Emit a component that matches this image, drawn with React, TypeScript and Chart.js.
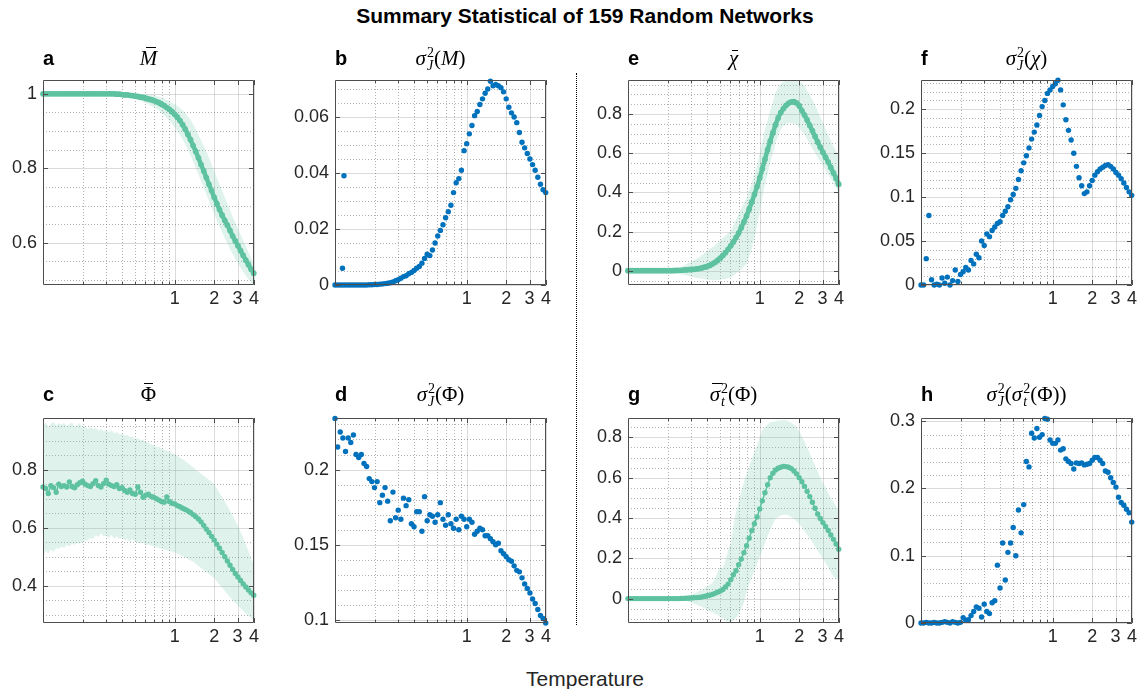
import React, { useEffect, useRef } from 'react';
import { Chart, registerables } from 'chart.js';

Chart.register(...registerables);

// ---------------- data ----------------
const TEMPERATURE = [
  0.1, 0.1047, 0.1096, 0.1148, 0.1202, 0.1259, 0.1318, 0.138, 0.1445, 0.1514,
  0.1585, 0.166, 0.1738, 0.182, 0.1905, 0.1995, 0.2089, 0.2188, 0.2291, 0.2399,
  0.2512, 0.263, 0.2754, 0.2884, 0.302, 0.3162, 0.3311, 0.3467, 0.3631, 0.3802,
  0.3981, 0.4169, 0.4365, 0.4571, 0.4786, 0.5012, 0.5248, 0.5495, 0.5754, 0.6026,
  0.631, 0.6607, 0.6918, 0.7244, 0.7586, 0.7943, 0.8318, 0.871, 0.912, 0.955,
  1.0, 1.047, 1.096, 1.148, 1.202, 1.259, 1.318, 1.38, 1.445, 1.514,
  1.585, 1.66, 1.738, 1.82, 1.905, 1.995, 2.089, 2.188, 2.291, 2.399,
  2.512, 2.63, 2.754, 2.884, 3.02, 3.162, 3.311, 3.467, 3.631, 3.802,
  3.981,
];

// a: mean magnetisation
const A_MEAN = [
  1, 1, 1, 1, 1, 1, 1, 1, 1, 1,
  1, 1, 1, 1, 1, 1, 1, 1, 1, 1,
  1, 1, 1, 1, 1, 1, 1, 1, 0.999, 0.999,
  0.998, 0.997, 0.997, 0.996, 0.995, 0.994, 0.993, 0.991, 0.99, 0.988,
  0.986, 0.984, 0.982, 0.979, 0.976, 0.972, 0.968, 0.963, 0.958, 0.952,
  0.945, 0.937, 0.928, 0.917, 0.905, 0.891, 0.877, 0.861, 0.845, 0.828,
  0.81, 0.793, 0.775, 0.757, 0.74, 0.722, 0.705, 0.689, 0.674, 0.66,
  0.647, 0.633, 0.618, 0.605, 0.592, 0.579, 0.566, 0.553, 0.541, 0.529,
  0.518,
];
const A_HI = [
  1.001, 1.001, 1.001, 1.001, 1.001, 1.001, 1.001, 1.001, 1.001, 1.001,
  1.001, 1.001, 1.001, 1.001, 1.001, 1.001, 1.001, 1.001, 1.001, 1.001,
  1.001, 1.001, 1.001, 1.001, 1.001, 1.001, 1.001, 1.001, 1.001, 1.001,
  1.0, 1.0, 1.0, 1.0, 1.0, 1.0, 1.0, 0.999, 0.999, 0.998,
  0.998, 0.997, 0.996, 0.994, 0.992, 0.99, 0.987, 0.984, 0.98, 0.976,
  0.972, 0.967, 0.962, 0.955, 0.948, 0.939, 0.93, 0.918, 0.905, 0.89,
  0.875, 0.86, 0.845, 0.828, 0.81, 0.792, 0.775, 0.757, 0.74, 0.722,
  0.705, 0.688, 0.67, 0.654, 0.638, 0.622, 0.607, 0.591, 0.575, 0.56,
  0.545,
];
const A_LO = [
  0.999, 0.999, 0.999, 0.999, 0.999, 0.999, 0.999, 0.999, 0.999, 0.999,
  0.999, 0.999, 0.999, 0.999, 0.999, 0.999, 0.999, 0.999, 0.999, 0.999,
  0.999, 0.999, 0.999, 0.999, 0.999, 0.999, 0.999, 0.999, 0.999, 0.999,
  0.995, 0.994, 0.992, 0.99, 0.988, 0.986, 0.984, 0.981, 0.978, 0.975,
  0.972, 0.968, 0.964, 0.96, 0.955, 0.949, 0.943, 0.936, 0.928, 0.919,
  0.91, 0.9, 0.89, 0.878, 0.865, 0.85, 0.835, 0.818, 0.8, 0.783,
  0.765, 0.748, 0.73, 0.712, 0.695, 0.677, 0.66, 0.644, 0.628, 0.612,
  0.597, 0.583, 0.57, 0.557, 0.545, 0.533, 0.522, 0.512, 0.502, 0.493,
  0.485,
];

// b: variance over networks of M
const B_VAL = [
  0, 0, 0, 0, 0, 0, 0, 0, 0, 0,
  0, 0, 0, 0.0001, 0.0001, 0.0002, 0.0002, 0.0003, 0.0004, 0.0005,
  0.0006, 0.0008, 0.0011, 0.0015, 0.0019, 0.0024, 0.003, 0.0033, 0.004, 0.0045,
  0.0052, 0.006, 0.0066, 0.0078, 0.0095, 0.011, 0.0105, 0.0125, 0.015, 0.0175,
  0.0195, 0.0215, 0.024, 0.0262, 0.0285, 0.033, 0.0365, 0.038, 0.041, 0.048,
  0.0505, 0.054, 0.057, 0.0605, 0.062, 0.0645, 0.0665, 0.0685, 0.07, 0.0728,
  0.0712, 0.0716, 0.0712, 0.0705, 0.069, 0.0665, 0.0635, 0.0615, 0.06, 0.058,
  0.0545, 0.051, 0.049, 0.047, 0.045, 0.043, 0.041, 0.0385, 0.036, 0.034,
  0.033,
];
const B_OUTLIER_T = [0.114, 0.117];
const B_OUTLIER_V = [0.006, 0.039];

// c: mean integrated information
const C_MEAN = [
  0.74, 0.735, 0.718, 0.745, 0.738, 0.722, 0.75, 0.742, 0.745, 0.74,
  0.758, 0.742, 0.738, 0.748, 0.755, 0.76, 0.75, 0.745, 0.742, 0.752,
  0.762, 0.745, 0.74, 0.752, 0.764, 0.75, 0.745, 0.742, 0.748, 0.735,
  0.738, 0.728, 0.722, 0.73, 0.718, 0.715, 0.74, 0.722, 0.705, 0.712,
  0.715, 0.708, 0.705, 0.7, 0.695, 0.69, 0.688, 0.706, 0.69, 0.684,
  0.682, 0.676, 0.672, 0.667, 0.663, 0.658, 0.652, 0.645, 0.638, 0.63,
  0.62, 0.608, 0.595, 0.583, 0.57, 0.557, 0.543, 0.529, 0.514, 0.5,
  0.485, 0.47, 0.456, 0.442, 0.43, 0.418, 0.406, 0.395, 0.385, 0.375,
  0.367,
];
const C_HI = [
  0.955, 0.962, 0.948, 0.958, 0.965, 0.952, 0.96, 0.955, 0.962, 0.95,
  0.958, 0.963, 0.948, 0.955, 0.96, 0.945, 0.952, 0.94, 0.948, 0.94,
  0.945, 0.935, 0.94, 0.933, 0.937, 0.93, 0.935, 0.926, 0.93, 0.922,
  0.925, 0.918, 0.92, 0.912, 0.915, 0.905, 0.91, 0.9, 0.905, 0.893,
  0.895, 0.887, 0.885, 0.878, 0.88, 0.872, 0.87, 0.866, 0.862, 0.858,
  0.853, 0.848, 0.842, 0.836, 0.83, 0.823, 0.815, 0.808, 0.8, 0.793,
  0.786, 0.779, 0.772, 0.765, 0.758, 0.75, 0.735, 0.72, 0.705, 0.69,
  0.675, 0.658, 0.642, 0.625, 0.605, 0.585, 0.565, 0.543, 0.52, 0.495,
  0.47,
];
const C_LO = [
  0.505, 0.52, 0.51, 0.525, 0.515, 0.53, 0.527, 0.535, 0.53, 0.54,
  0.535, 0.545, 0.54, 0.548, 0.545, 0.55, 0.558, 0.555, 0.565, 0.56,
  0.575, 0.568, 0.58, 0.57, 0.572, 0.565, 0.575, 0.562, 0.57, 0.56,
  0.565, 0.555, 0.562, 0.55, 0.561, 0.552, 0.548, 0.545, 0.55, 0.54,
  0.542, 0.538, 0.535, 0.532, 0.53, 0.528, 0.525, 0.522, 0.52, 0.517,
  0.514, 0.51, 0.506, 0.502, 0.497, 0.492, 0.487, 0.482, 0.475, 0.468,
  0.461, 0.454, 0.447, 0.44, 0.433, 0.426, 0.415, 0.404, 0.393, 0.382,
  0.371, 0.36, 0.349, 0.34, 0.331, 0.322, 0.313, 0.304, 0.296, 0.288,
  0.28,
];

// d: variance over networks of Phi
const D_VAL = [
  0.234, 0.215, 0.225, 0.221, 0.212, 0.221, 0.218, 0.223, 0.21, 0.208,
  0.21, 0.204, 0.202, 0.194, 0.192, 0.188, 0.192, 0.178, 0.183, 0.188,
  0.179, 0.166, 0.185, 0.168, 0.173, 0.167, 0.181, 0.176, 0.18, 0.164,
  0.162, 0.172, 0.172, 0.159, 0.182, 0.166, 0.17, 0.169, 0.165, 0.17,
  0.178, 0.167, 0.163, 0.17, 0.164, 0.161, 0.167, 0.16, 0.169, 0.167,
  0.162, 0.167, 0.165, 0.157, 0.159, 0.161, 0.16, 0.156, 0.156, 0.154,
  0.152, 0.15, 0.151, 0.146, 0.144, 0.142, 0.14, 0.139, 0.136, 0.133,
  0.132, 0.128, 0.124, 0.121, 0.118, 0.114, 0.111, 0.107, 0.103, 0.101,
  0.098,
];

// e: mean susceptibility
const E_MEAN = [
  0.001, 0.001, 0.001, 0.001, 0.001, 0.001, 0.001, 0.001, 0.001, 0.001,
  0.001, 0.001, 0.001, 0.001, 0.001, 0.001, 0.001, 0.001, 0.002, 0.002,
  0.003, 0.004, 0.005, 0.006, 0.007, 0.008, 0.01, 0.012, 0.015, 0.019,
  0.023, 0.028, 0.035, 0.043, 0.053, 0.065, 0.078, 0.093, 0.11, 0.128,
  0.148, 0.17, 0.193, 0.22, 0.25, 0.28, 0.315, 0.352, 0.39, 0.43,
  0.475, 0.522, 0.57, 0.618, 0.662, 0.705, 0.745, 0.78, 0.808, 0.828,
  0.845, 0.856, 0.862, 0.863, 0.857, 0.843, 0.818, 0.795, 0.77, 0.742,
  0.715, 0.686, 0.658, 0.631, 0.605, 0.58, 0.555, 0.528, 0.5, 0.473,
  0.442,
];
const E_HI = [
  0.004, 0.004, 0.004, 0.004, 0.004, 0.004, 0.004, 0.004, 0.004, 0.004,
  0.004, 0.004, 0.004, 0.004, 0.004, 0.004, 0.004, 0.004, 0.008, 0.012,
  0.018, 0.025, 0.032, 0.04, 0.047, 0.055, 0.062, 0.07, 0.08, 0.09,
  0.1, 0.11, 0.12, 0.13, 0.142, 0.155, 0.168, 0.18, 0.192, 0.205,
  0.23, 0.26, 0.29, 0.32, 0.345, 0.371, 0.41, 0.45, 0.495, 0.54,
  0.6, 0.66, 0.72, 0.77, 0.82, 0.86, 0.91, 0.935, 0.955, 0.965,
  0.972, 0.975, 0.977, 0.977, 0.975, 0.968, 0.958, 0.945, 0.92, 0.895,
  0.875, 0.845, 0.815, 0.785, 0.755, 0.725, 0.695, 0.665, 0.635, 0.61,
  0.588,
];
const E_LO = [
  -0.003, -0.003, -0.003, -0.003, -0.003, -0.003, -0.003, -0.003, -0.003, -0.003,
  -0.003, -0.003, -0.003, -0.003, -0.003, -0.003, -0.003, -0.003, -0.006, -0.01,
  -0.015, -0.018, -0.022, -0.026, -0.03, -0.033, -0.036, -0.038, -0.04, -0.042,
  -0.044, -0.046, -0.047, -0.047, -0.046, -0.045, -0.043, -0.041, -0.038, -0.034,
  -0.025, -0.013, -0.003, 0.01, 0.022, 0.037, 0.07, 0.11, 0.17, 0.23,
  0.3, 0.375, 0.44, 0.49, 0.555, 0.6, 0.65, 0.69, 0.72, 0.74,
  0.75, 0.755, 0.753, 0.75, 0.746, 0.73, 0.713, 0.695, 0.672, 0.648,
  0.625, 0.603, 0.58, 0.56, 0.538, 0.515, 0.49, 0.47, 0.445, 0.42,
  0.396,
];

// f: variance over networks of chi
const F_VAL = [
  0, 0, 0.03, 0.079, 0.006, 0, 0.001, 0, 0.008, 0.002,
  0.009, 0, 0.005, 0.017, 0.004, 0.012, 0.015, 0.02, 0.017, 0.028,
  0.024, 0.035, 0.031, 0.05, 0.045, 0.058, 0.055, 0.062, 0.066, 0.07,
  0.072, 0.079, 0.084, 0.089, 0.097, 0.103, 0.11, 0.12, 0.13, 0.139,
  0.147, 0.156, 0.166, 0.174, 0.182, 0.193, 0.203, 0.21, 0.218, 0.222,
  0.226, 0.229, 0.233, 0.222, 0.205, 0.188, 0.176, 0.165, 0.15, 0.135,
  0.122, 0.113, 0.104, 0.106, 0.113, 0.119, 0.125, 0.129, 0.132, 0.134,
  0.136, 0.137, 0.135, 0.132, 0.128, 0.125, 0.121, 0.116, 0.111, 0.106,
  0.102,
];

// g: mean temporal variance of Phi
const G_MEAN = [
  0, 0, 0, 0, 0, 0, 0, 0, 0, 0,
  0, 0, 0, 0, 0, 0, 0, 0, 0, 0,
  0.001, 0.001, 0.002, 0.002, 0.003, 0.004, 0.005, 0.006, 0.008, 0.011,
  0.014, 0.017, 0.021, 0.026, 0.032, 0.038, 0.045, 0.058, 0.072, 0.094,
  0.118, 0.138, 0.168, 0.196, 0.228, 0.262, 0.3, 0.338, 0.372, 0.405,
  0.445, 0.485, 0.525, 0.565, 0.6, 0.622, 0.638, 0.647, 0.652, 0.656,
  0.655, 0.652, 0.645, 0.633, 0.619, 0.6, 0.58, 0.557, 0.532, 0.506,
  0.478, 0.448, 0.42, 0.398, 0.377, 0.358, 0.338, 0.316, 0.294, 0.271,
  0.245,
];
const G_HI = [
  0.002, 0.002, 0.002, 0.002, 0.002, 0.002, 0.002, 0.002, 0.002, 0.002,
  0.002, 0.002, 0.002, 0.002, 0.002, 0.002, 0.002, 0.002, 0.002, 0.002,
  0.008, 0.011, 0.015, 0.018, 0.022, 0.026, 0.03, 0.037, 0.045, 0.052,
  0.06, 0.068, 0.078, 0.1, 0.13, 0.16, 0.15, 0.19, 0.24, 0.28,
  0.36, 0.43, 0.48, 0.53, 0.58, 0.62, 0.655, 0.69, 0.73, 0.76,
  0.8, 0.835, 0.85, 0.865, 0.875, 0.878, 0.88, 0.883, 0.885, 0.886,
  0.885, 0.88, 0.873, 0.863, 0.853, 0.83, 0.805, 0.78, 0.75, 0.72,
  0.69, 0.66, 0.63, 0.6, 0.575, 0.55, 0.525, 0.5, 0.48, 0.46,
  0.445,
];
const G_LO = [
  -0.001, -0.001, -0.001, -0.001, -0.001, -0.001, -0.001, -0.001, -0.001, -0.001,
  -0.001, -0.001, -0.001, -0.001, -0.001, -0.001, -0.001, -0.001, -0.001, -0.001,
  -0.005, -0.008, -0.01, -0.015, -0.02, -0.025, -0.03, -0.036, -0.042, -0.048,
  -0.055, -0.062, -0.068, -0.074, -0.08, -0.09, -0.1, -0.108, -0.115, -0.115,
  -0.11, -0.095, -0.08, -0.05, -0.02, 0.029, 0.07, 0.105, 0.14, 0.175,
  0.207, 0.24, 0.275, 0.31, 0.34, 0.37, 0.395, 0.405, 0.412, 0.415,
  0.417, 0.412, 0.405, 0.395, 0.384, 0.37, 0.355, 0.335, 0.317, 0.3,
  0.28, 0.26, 0.238, 0.218, 0.198, 0.177, 0.155, 0.132, 0.11, 0.1,
  0.09,
];

// h: variance over networks of temporal variance of Phi
const H_VAL = [
  0, 0, 0.001, 0, 0, 0.001, 0, 0, 0.001, 0.002,
  0.001, 0, 0.002, 0.001, 0, 0.001, 0.008, 0.004, 0.005, 0.011,
  0.017, 0.024, 0.022, 0.009, 0.028, 0.017, 0.014, 0.03, 0.033, 0.086,
  0.052, 0.119, 0.064, 0.105, 0.119, 0.142, 0.1, 0.168, 0.134, 0.176,
  0.24, 0.232, 0.282, 0.275, 0.289, 0.276, 0.28, 0.304, 0.303, 0.272,
  0.267, 0.267, 0.272, 0.257, 0.259, 0.244, 0.24, 0.237, 0.229, 0.238,
  0.237, 0.238, 0.235, 0.236, 0.237, 0.242, 0.246, 0.246, 0.242, 0.237,
  0.226, 0.224, 0.216, 0.209, 0.202, 0.187, 0.179, 0.175, 0.169, 0.164,
  0.15,
];

// axis ticks
const X_MIN = 0.1;
const X_MAX = 4;
const X_TICKS = [1, 2, 3, 4];
const X_TICK_LABELS = ['1', '2', '3', '4'];
const X_MINOR = [0.2, 0.3, 0.4, 0.5, 0.6, 0.7, 0.8, 0.9];

const Y_TICKS_A = [0.6, 0.8, 1];
const Y_LABELS_A = ['0.6', '0.8', '1'];
const Y_TICKS_B = [0, 0.02, 0.04, 0.06];
const Y_LABELS_B = ['0', '0.02', '0.04', '0.06'];
const Y_TICKS_C = [0.4, 0.6, 0.8];
const Y_LABELS_C = ['0.4', '0.6', '0.8'];
const Y_TICKS_D = [0.1, 0.15, 0.2];
const Y_LABELS_D = ['0.1', '0.15', '0.2'];
const Y_TICKS_E = [0, 0.2, 0.4, 0.6, 0.8];
const Y_LABELS_E = ['0', '0.2', '0.4', '0.6', '0.8'];
const Y_TICKS_F = [0, 0.05, 0.1, 0.15, 0.2];
const Y_LABELS_F = ['0', '0.05', '0.1', '0.15', '0.2'];
const Y_TICKS_G = [0, 0.2, 0.4, 0.6, 0.8];
const Y_LABELS_G = ['0', '0.2', '0.4', '0.6', '0.8'];
const Y_TICKS_H = [0, 0.1, 0.2, 0.3];
const Y_LABELS_H = ['0', '0.1', '0.2', '0.3'];

// ---------------- style ----------------
const GREEN = 'rgb(94,194,160)';
const BAND = 'rgba(94,194,160,0.2)';
const BLUE = '#0072bd';
const TEXT = '#262626';
const SANS = "'Liberation Sans', Arial, Helvetica, sans-serif";
const SERIF = "'Liberation Serif', 'Times New Roman', serif";

const PLOT_W = 211;
const PLOT_H = 210;
const AXIS_W = 60;
const AXIS_H = 30;
const PAD_T = 12;
const PAD_R = 9;

type PanelSpec = {
  letter: string;
  left: number;
  top: number;
  labelY: number;
  yMin: number;
  yMax: number;
  yTicks: number[];
  yLabels: string[];
  yMinorStep: number;
  thick?: boolean;
  mean?: number[];
  lo?: number[];
  hi?: number[];
  scatter?: number[];
  extraT?: number[];
  extraV?: number[];
  title: React.ReactNode;
};

const SS = ({ sup, sub }: { sup: string; sub: string }) => (
  <span
    style={{
      display: 'inline-block',
      verticalAlign: '-5px',
      lineHeight: '13px',
      fontSize: 14,
      textAlign: 'left',
      marginLeft: 1,
      fontStyle: 'normal',
    }}
  >
    <span style={{ display: 'block' }}>{sup}</span>
    <span style={{ display: 'block', fontStyle: 'italic' }}>{sub}</span>
  </span>
);

const Bar = ({ children, top, l, r }: { children: React.ReactNode; top: number; l: number; r: number }) => (
  <span style={{ position: 'relative', display: 'inline-block' }}>
    {children}
    <span
      style={{
        position: 'absolute', left: l, right: r, top, height: 0,
        borderTop: '1.3px solid #000',
      }}
    />
  </span>
);

const PANELS: PanelSpec[] = [
  {
    letter: 'a', left: 43, top: 75, labelY: 58,
    yMin: 0.4865, yMax: 1.0376, yTicks: Y_TICKS_A, yLabels: Y_LABELS_A, yMinorStep: 0.05,
    thick: true, mean: A_MEAN, lo: A_LO, hi: A_HI,
    title: <Bar top={3} l={6} r={1}><i>M</i></Bar>,
  },
  {
    letter: 'b', left: 335, top: 75, labelY: 58,
    yMin: 0, yMax: 0.0733, yTicks: Y_TICKS_B, yLabels: Y_LABELS_B, yMinorStep: 0.005,
    scatter: B_VAL, extraT: B_OUTLIER_T, extraV: B_OUTLIER_V,
    title: (<><i>σ</i><SS sup="2" sub="J" />(<i>M</i>)</>),
  },
  {
    letter: 'e', left: 628, top: 75, labelY: 58,
    yMin: -0.072, yMax: 0.975, yTicks: Y_TICKS_E, yLabels: Y_LABELS_E, yMinorStep: 0.05,
    thick: true, mean: E_MEAN, lo: E_LO, hi: E_HI,
    title: <Bar top={6} l={3} r={0}><i>χ</i></Bar>,
  },
  {
    letter: 'f', left: 921, top: 75, labelY: 58,
    yMin: 0, yMax: 0.2335, yTicks: Y_TICKS_F, yLabels: Y_LABELS_F, yMinorStep: 0.01,
    scatter: F_VAL,
    title: (<><i>σ</i><SS sup="2" sub="J" />(<i>χ</i>)</>),
  },
  {
    letter: 'c', left: 43, top: 413, labelY: 394,
    yMin: 0.271, yMax: 0.979, yTicks: Y_TICKS_C, yLabels: Y_LABELS_C, yMinorStep: 0.05,
    mean: C_MEAN, lo: C_LO, hi: C_HI,
    title: <Bar top={3} l={3} r={3}><span>Φ</span></Bar>,
  },
  {
    letter: 'd', left: 335, top: 413, labelY: 394,
    yMin: 0.098, yMax: 0.2344, yTicks: Y_TICKS_D, yLabels: Y_LABELS_D, yMinorStep: 0.01,
    scatter: D_VAL,
    title: (<><i>σ</i><SS sup="2" sub="J" />(Φ)</>),
  },
  {
    letter: 'g', left: 628, top: 413, labelY: 394,
    yMin: -0.121, yMax: 0.897, yTicks: Y_TICKS_G, yLabels: Y_LABELS_G, yMinorStep: 0.05,
    mean: G_MEAN, lo: G_LO, hi: G_HI,
    title: (<><Bar top={3} l={2} r={-2}><i>σ</i></Bar><SS sup="2" sub="t" />(Φ)</>),
  },
  {
    letter: 'h', left: 921, top: 413, labelY: 394,
    yMin: 0, yMax: 0.305, yTicks: Y_TICKS_H, yLabels: Y_LABELS_H, yMinorStep: 0.02,
    scatter: H_VAL,
    title: (<><i>σ</i><SS sup="2" sub="J" />(<i>σ</i><SS sup="2" sub="t" />(Φ))</>),
  },
];

function minorValues(spec: PanelSpec): number[] {
  const out: number[] = [];
  const step = spec.yMinorStep;
  for (let k = Math.ceil(spec.yMin / step - 1e-6); k * step <= spec.yMax + 1e-9; k++) {
    const v = k * step;
    if (!spec.yTicks.some((t) => Math.abs(t - v) < step / 10)) out.push(v);
  }
  return out;
}

function makeGridFramePlugin(spec: PanelSpec) {
  return {
    id: 'gridFrame',
    beforeDatasetsDraw(chart: any) {
      const { ctx, chartArea: a } = chart;
      const xs = chart.scales.x;
      const ys = chart.scales.y;
      const L = Math.round(a.left);
      const R = Math.round(a.right);
      const T = Math.round(a.top);
      const B = Math.round(a.bottom);
      ctx.save();
      ctx.lineWidth = 1;
      ctx.setLineDash([1, 2]);
      ctx.strokeStyle = 'rgba(0,0,0,0.3)';
      ctx.beginPath();
      X_MINOR.forEach((v) => {
        const x = Math.round(xs.getPixelForValue(v)) + 0.5;
        ctx.moveTo(x, T);
        ctx.lineTo(x, B);
      });
      minorValues(spec).forEach((v) => {
        const y = Math.round(ys.getPixelForValue(v)) + 0.5;
        ctx.moveTo(L, y);
        ctx.lineTo(R, y);
      });
      ctx.stroke();
      ctx.setLineDash([]);
      ctx.strokeStyle = 'rgba(0,0,0,0.14)';
      ctx.beginPath();
      X_TICKS.forEach((v) => {
        const x = Math.round(xs.getPixelForValue(v)) + 0.5;
        ctx.moveTo(x, T);
        ctx.lineTo(x, B);
      });
      spec.yTicks.forEach((v) => {
        const y = Math.round(ys.getPixelForValue(v)) + 0.5;
        ctx.moveTo(L, y);
        ctx.lineTo(R, y);
      });
      ctx.stroke();
      ctx.restore();
    },
    afterDatasetsDraw(chart: any) {
      const { ctx, chartArea: a } = chart;
      const xs = chart.scales.x;
      const ys = chart.scales.y;
      const L = Math.round(a.left);
      const R = Math.round(a.right);
      const T = Math.round(a.top);
      const B = Math.round(a.bottom);
      ctx.save();
      ctx.lineWidth = 1;
      ctx.strokeStyle = '#4d4d4d';
      ctx.beginPath();
      ctx.rect(L + 0.5, T + 0.5, R - L - 1, B - T - 1);
      const tick = (v: number, len: number) => {
        const x = Math.round(xs.getPixelForValue(v)) + 0.5;
        ctx.moveTo(x, B);
        ctx.lineTo(x, B - len);
        ctx.moveTo(x, T);
        ctx.lineTo(x, T + len);
      };
      X_TICKS.forEach((v) => tick(v, 5));
      X_MINOR.forEach((v) => tick(v, 3));
      spec.yTicks.forEach((v) => {
        const y = Math.round(ys.getPixelForValue(v)) + 0.5;
        ctx.moveTo(L, y);
        ctx.lineTo(L + 5, y);
        ctx.moveTo(R, y);
        ctx.lineTo(R - 5, y);
      });
      ctx.stroke();
      ctx.restore();
    },
  };
}

function Panel({ spec }: { spec: PanelSpec }) {
  const ref = useRef<HTMLCanvasElement>(null);
  const W = AXIS_W + PLOT_W + PAD_R;
  const H = PAD_T + PLOT_H + AXIS_H;

  useEffect(() => {
    const canvas = ref.current;
    if (!canvas) return;
    const pts = (arr: number[]) => TEMPERATURE.map((t, i) => ({ x: t, y: arr[i] }));
    const datasets: any[] = [];
    if (spec.mean && spec.lo && spec.hi) {
      datasets.push({
        data: pts(spec.lo), borderWidth: 0, borderColor: 'rgba(0,0,0,0)',
        pointRadius: 0, fill: false,
      });
      datasets.push({
        data: pts(spec.hi), borderWidth: 0, borderColor: 'rgba(0,0,0,0)',
        pointRadius: 0, fill: '-1', backgroundColor: BAND,
      });
      datasets.push({
        data: pts(spec.mean), borderColor: GREEN, borderWidth: spec.thick ? 4.5 : 1.5,
        pointRadius: spec.thick ? 2.9 : 2.7, pointBackgroundColor: GREEN, pointBorderWidth: 0,
        fill: false, clip: false,
      });
    }
    if (spec.scatter) {
      datasets.push({
        data: pts(spec.scatter), showLine: false, borderColor: BLUE,
        pointRadius: 2.7, pointBackgroundColor: BLUE, pointBorderWidth: 0, clip: false,
      });
    }
    if (spec.extraT && spec.extraV) {
      const ev = spec.extraV;
      datasets.push({
        data: spec.extraT.map((t, i) => ({ x: t, y: ev[i] })), showLine: false, borderColor: BLUE,
        pointRadius: 2.7, pointBackgroundColor: BLUE, pointBorderWidth: 0, clip: false,
      });
    }

    const chart = new Chart(canvas, {
      type: 'line',
      data: { datasets },
      options: {
        animation: false,
        responsive: false,
        events: [],
        layout: { padding: { top: PAD_T, right: PAD_R, left: 0, bottom: 0 } },
        plugins: { legend: { display: false }, tooltip: { enabled: false }, title: { display: false } },
        scales: {
          x: {
            type: 'logarithmic',
            min: X_MIN,
            max: X_MAX,
            grid: { display: false, drawTicks: false },
            border: { display: false },
            afterBuildTicks: (scale: any) => {
              scale.ticks = X_TICKS.map((v) => ({ value: v }));
            },
            afterFit: (scale: any) => {
              scale.height = AXIS_H;
            },
            ticks: {
              autoSkip: false,
              maxRotation: 0,
              padding: 3,
              color: TEXT,
              font: { family: SANS, size: 18 },
              callback: (_v: any, i: number) => X_TICK_LABELS[i],
            },
          },
          y: {
            type: 'linear',
            min: spec.yMin,
            max: spec.yMax,
            grid: { display: false, drawTicks: false },
            border: { display: false },
            afterBuildTicks: (scale: any) => {
              scale.ticks = spec.yTicks.map((v) => ({ value: v }));
            },
            afterFit: (scale: any) => {
              scale.width = AXIS_W;
            },
            ticks: {
              autoSkip: false,
              padding: 6,
              color: TEXT,
              font: { family: SANS, size: 18 },
              callback: (_v: any, i: number) => spec.yLabels[i],
            },
          },
        },
      } as any,
      plugins: [makeGridFramePlugin(spec)],
    });
    return () => chart.destroy();
  }, [spec]);

  return (
    <>
      <div
        style={{
          position: 'absolute', left: spec.left - AXIS_W, top: spec.top - PAD_T,
          width: W, height: H,
        }}
      >
        <canvas ref={ref} width={W} height={H} style={{ display: 'block', width: W, height: H }} />
      </div>
      <div
        style={{
          position: 'absolute', left: spec.left, top: spec.labelY - 12, lineHeight: '24px',
          fontFamily: SANS, fontWeight: 'bold', fontSize: 20, color: '#000',
        }}
      >
        {spec.letter}
      </div>
      <div
        style={{
          position: 'absolute', left: spec.left, width: PLOT_W, top: spec.labelY - 14,
          lineHeight: '28px', textAlign: 'center', fontFamily: SERIF, fontSize: 21, color: '#000',
          whiteSpace: 'nowrap',
        }}
      >
        {spec.title}
      </div>
    </>
  );
}

export default function App() {
  return (
    <div
      style={{
        position: 'absolute', left: 0, top: 0, width: 1143, height: 689,
        background: '#fff', overflow: 'hidden',
      }}
    >
      <div
        style={{
          position: 'absolute', left: 285, width: 600, top: 3, lineHeight: '26px',
          textAlign: 'center', fontFamily: SANS, fontWeight: 'bold', fontSize: 21, color: '#000',
        }}
      >
        Summary Statistical of 159 Random Networks
      </div>
      {PANELS.map((p) => (
        <Panel key={p.letter} spec={p} />
      ))}
      <div
        style={{
          position: 'absolute', left: 576, top: 73, height: 552, width: 0,
          borderLeft: '1px dotted #000',
        }}
      />
      <div
        style={{
          position: 'absolute', left: 435, width: 300, top: 666, lineHeight: '26px',
          textAlign: 'center', fontFamily: SANS, fontSize: 21, color: TEXT,
        }}
      >
        Temperature
      </div>
    </div>
  );
}
